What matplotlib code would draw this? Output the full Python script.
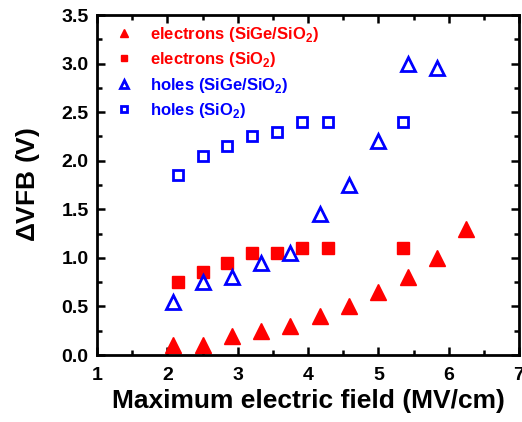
import numpy as np
import matplotlib
matplotlib.use("Agg")
import matplotlib.pyplot as plt
from matplotlib.ticker import MultipleLocator

plt.rcParams['font.family'] = ['Liberation Sans', 'DejaVu Sans']
plt.rcParams['mathtext.fontset'] = 'custom'
plt.rcParams['mathtext.rm'] = 'Liberation Sans:bold'
plt.rcParams['mathtext.bf'] = 'Liberation Sans:bold'

# -------- DATA --------
e_sige_x = [2.08, 2.5, 2.92, 3.33, 3.75, 4.17, 4.58, 5.0, 5.42, 5.83, 6.25]
e_sige_y = [0.1, 0.1, 0.2, 0.25, 0.3, 0.4, 0.5, 0.65, 0.8, 1.0, 1.3]

e_sio2_x = [2.15, 2.5, 2.85, 3.2, 3.56, 3.92, 4.28, 5.35]
e_sio2_y = [0.75, 0.85, 0.95, 1.05, 1.05, 1.1, 1.1, 1.1]

h_sige_x = [2.08, 2.5, 2.92, 3.33, 3.75, 4.17, 4.58, 5.0, 5.42, 5.83]
h_sige_y = [0.55, 0.75, 0.8, 0.95, 1.05, 1.45, 1.75, 2.2, 3.0, 2.95]

h_sio2_x = [2.15, 2.5, 2.85, 3.2, 3.56, 3.92, 4.28, 5.35]
h_sio2_y = [1.85, 2.05, 2.15, 2.25, 2.3, 2.4, 2.4, 2.4]

labels = [r"electrons (SiGe/SiO$_2$)", r"electrons (SiO$_2$)",
          r"holes (SiGe/SiO$_2$)", r"holes (SiO$_2$)"]

red = "#ff0000"
blue = "#0000ff"

fig = plt.figure(figsize=(5.22, 4.22), dpi=100)
ax = fig.add_axes([97 / 522, 1 - 355 / 422, 422 / 522, 340 / 422])

ax.plot(e_sige_x, e_sige_y, "^", color=red, ms=11.5, ls="none", label=labels[0])
ax.plot(e_sio2_x, e_sio2_y, "s", color=red, ms=8.5, ls="none", label=labels[1])
ax.plot(h_sige_x, h_sige_y, "^", mfc="none", mec=blue, mew=2, ms=10.5, ls="none", label=labels[2])
ax.plot(h_sio2_x, h_sio2_y, "s", mfc="none", mec=blue, mew=2, ms=7.5, ls="none", label=labels[3])

ax.set_xlim(1, 7)
ax.set_ylim(0, 3.5)
ax.xaxis.set_major_locator(MultipleLocator(1))
ax.xaxis.set_minor_locator(MultipleLocator(0.5))
ax.yaxis.set_major_locator(MultipleLocator(0.5))
ax.yaxis.set_minor_locator(MultipleLocator(0.25))
ax.tick_params(which="both", direction="in", top=True, right=True, width=1.8)
ax.tick_params(which="major", length=6, labelsize=14)
ax.tick_params(axis="x", which="major", pad=9)
ax.tick_params(axis="y", which="major", pad=6)
ax.tick_params(which="minor", length=3.5)
for lab in ax.get_xticklabels() + ax.get_yticklabels():
    lab.set_fontweight("bold")
for sp in ax.spines.values():
    sp.set_linewidth(2)

ax.set_xlabel("Maximum electric field (MV/cm)", fontsize=19, fontweight="bold", labelpad=3)
ax.set_ylabel(r"$\mathregular{\Delta}$VFB (V)", fontsize=19, fontweight="bold", labelpad=14)

leg = ax.legend(loc="upper left", frameon=False, handletextpad=0.6,
                labelspacing=0.38, borderaxespad=0.2, markerscale=0.55,
                prop={"weight": "bold", "size": 12})
for txt, c in zip(leg.get_texts(), [red, red, blue, blue]):
    txt.set_color(c)

fig.savefig("out.png", dpi=100)
